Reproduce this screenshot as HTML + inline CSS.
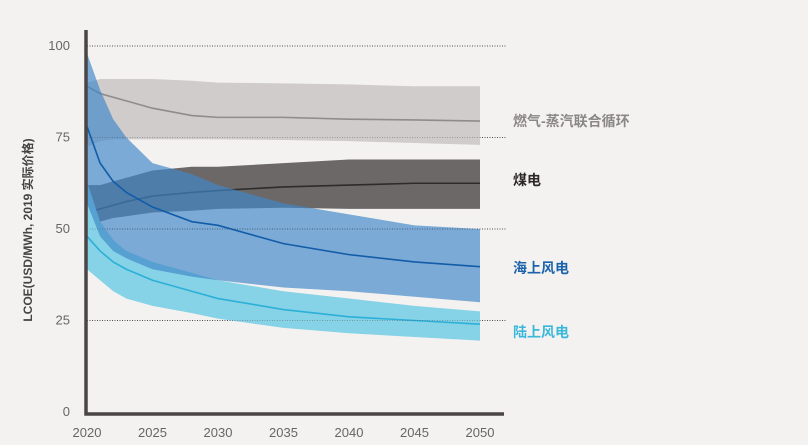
<!DOCTYPE html>
<html><head><meta charset="utf-8"><style>
body{margin:0;background:#f4f2f0;}
svg{display:block;font-family:"Liberation Sans","Noto Sans CJK SC",sans-serif;}
</style></head><body>
<svg width="808" height="445" id="c"></svg>
<script>
const years=[2020,2021,2022,2023,2025,2028,2030,2035,2040,2045,2050];
const gasLine=[89,87,86,85,83,81,80.5,80.5,80,79.8,79.5];
const gasHi=[90,91,91,91,91,90.5,90,89.8,89.5,89,89];
const gasLo=[72.5,74,74.5,74.5,74.5,74.5,74.5,74.3,74,73.5,73];
const coalLine=[54.5,55.5,56.5,57.5,59,60,60.5,61.5,62,62.5,62.5];
const coalHi=[62,62,63,64,66,67,67,68,69,69,69];
const coalLo=[50,52,53,53.5,54.5,55,55.5,55.8,55.5,55.5,55.5];
const offLine=[78,68,63,60,56,52,51,46,43,41,39.7];
const offHi=[98,88,80,75,68,65,62,57,54,51,50];
const offLo=[57,48,44,42,39,37,36,34,33,31.5,30];
const onLine=[48,44,41,39,36,33,31,28,26,25,24];
const onHi=[63,52,47,44,41,38,36,33,31,29,27.5];
const onLo=[39,36,33,31,29,27,25.5,23,21.5,20.5,19.5];
const yTicks=[0,25,50,75,100];
const xTicks=[2020,2025,2030,2035,2040,2045,2050];
const NS='http://www.w3.org/2000/svg';
const svg=document.getElementById('c');
const X=y=>87+(y-2020)*13.1;
const Y=v=>412-v*3.66;
function el(t,a){const e=document.createElementNS(NS,t);for(const k in a)e.setAttribute(k,a[k]);svg.appendChild(e);return e;}
function band(hi,lo,fill,op,name){
 let d='M'+years.map((y,i)=>X(y)+','+Y(hi[i])).join('L');
 d+='L'+years.map((y,i)=>[X(y),Y(lo[i])]).reverse().map(p=>p.join(',')).join('L')+'Z';
 const e=el('path',{d:d,fill:fill,'fill-opacity':op});
 
 
}
function line(v,stroke,name){
 const e=el('polyline',{points:years.map((y,i)=>X(y)+','+Y(v[i])).join(' '),fill:'none',stroke:stroke,'stroke-width':1.6});
 
 
}
yTicks.forEach(v=>{
 if(v>0){const g=el('line',{x1:87,x2:506,y1:Y(v),y2:Y(v),stroke:'#555','stroke-width':1,'stroke-dasharray':'1,1.5'});
 
 }
 const t=el('text',{x:70,y:Y(v)+4,'text-anchor':'end','font-size':13,fill:'#666'});t.textContent=v;
 
 
});
band(gasHi,gasLo,'#cfcccb',1,'gas-band');
line(gasLine,'#8f8c8b','gas-line');
band(coalHi,coalLo,'#6c6868',1,'coal-band');
line(coalLine,'#2e2b2b','coal-line');
band(onHi,onLo,'#86d2e6',1,'onshore-band');
line(onLine,'#2cb0d8','onshore-line');
band(offHi,offLo,'#3f88c8',0.68,'offshore-band');
line(offLine,'#125ca8','offshore-line');
yTicks.forEach(v=>{if(v>0){const g=el('line',{x1:87,x2:506,y1:Y(v),y2:Y(v),stroke:'#444','stroke-width':0.8,'stroke-dasharray':'1,1.5','stroke-opacity':0.5});
 
 }});
const ax=el('path',{d:'M86,30V414H504',fill:'none',stroke:'#4a4646','stroke-width':3.5});


xTicks.forEach(v=>{const t=el('text',{x:X(v),y:437,'text-anchor':'middle','font-size':13,fill:'#666'});t.textContent=v;
 
 });
const yt=el('text',{x:0,y:0,'font-size':12,'font-weight':'bold',fill:'#444','text-anchor':'middle',transform:'translate(32,230) rotate(-90)'});
yt.textContent='LCOE(USD/MWh, 2019 实际价格)';


const labs=[['燃气-蒸汽联合循环',126,'#8a8787','legend-gas'],['煤电',185,'#2b2828','legend-coal'],['海上风电',273,'#1b63ab','legend-offshore'],['陆上风电',337,'#3ab8dc','legend-onshore']];
labs.forEach(l=>{const t=el('text',{x:513,y:l[1],'font-size':14,'font-weight':'bold',fill:l[2]});t.textContent=l[0];
 
 });
</script>
</body></html>
